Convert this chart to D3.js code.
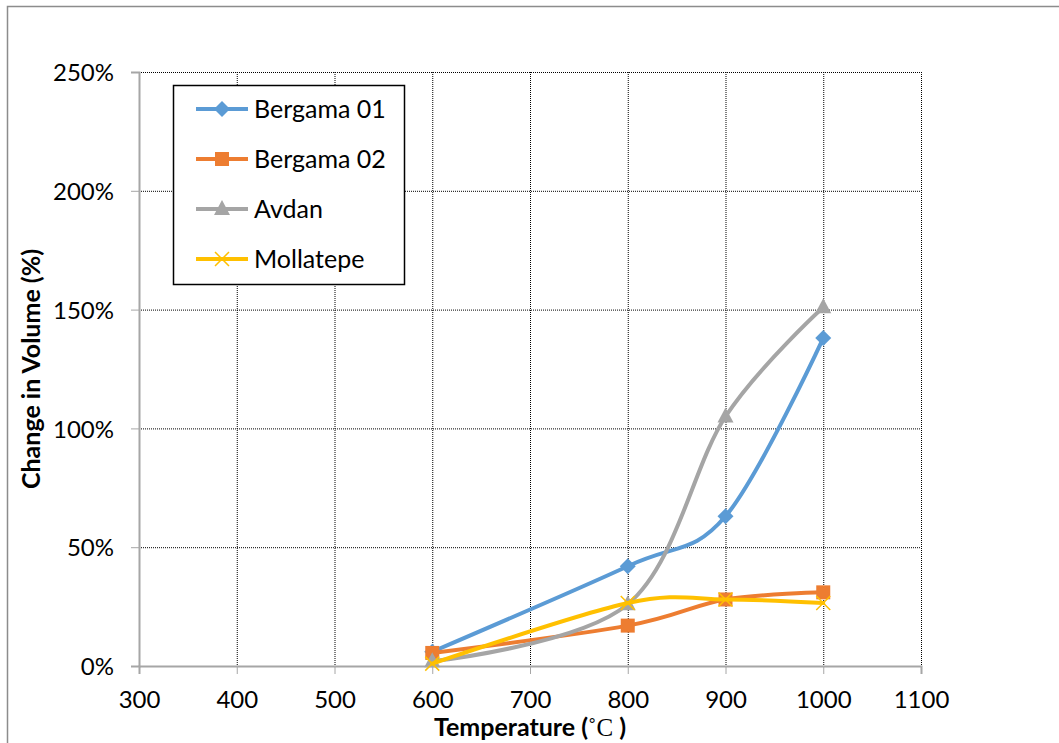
<!DOCTYPE html>
<html><head><meta charset="utf-8">
<script src="https://cdn.jsdelivr.net/npm/d3@7"></script>
<style>body{margin:0;background:#fff;}svg{display:block;}</style>
</head><body>
<svg id="c" width="1059" height="743"></svg>
<script>
const temps = [600, 800, 900, 1000];
const bergama01 = [6, 42, 63, 138];
const bergama02 = [5.5, 17, 28, 31];
const avdan = [2, 26, 105, 151];
const mollatepe = [1, 26.5, 28, 26.5];
const seriesNames = ["Bergama 01", "Bergama 02", "Avdan", "Mollatepe"];
const seriesColors = ["#5b9bd5", "#ed7d31", "#a5a5a5", "#ffc000"];
const seriesMarkers = ["diamond", "square", "triangle", "x"];
const xTicks = [300, 400, 500, 600, 700, 800, 900, 1000, 1100];
const yTicks = [0, 50, 100, 150, 200, 250];

const allSeries = [bergama01, bergama02, avdan, mollatepe];
const svg = d3.select("#c");
const font = "Lato, 'Open Sans', sans-serif";

svg.append("rect").attr("x",7.5).attr("y",6.5).attr("width",1100).attr("height",800)
  .attr("fill","none").attr("stroke","#8c8c8c").attr("stroke-width",1.5);

const L=139, R=921, T=72, B=666;
const x = d3.scaleLinear().domain([300,1100]).range([L,R]);
const y = d3.scaleLinear().domain([0,250]).range([B,T]);

// gridlines
const g = svg.append("g");
g.selectAll(".vg").data(xTicks.slice(1)).join("line")
  .attr("x1",d=>x(d)+0.5).attr("x2",d=>x(d)+0.5).attr("y1",T).attr("y2",B)
  .attr("stroke","#000").attr("stroke-width",1).attr("stroke-dasharray","1,1");
g.selectAll(".hg").data(yTicks.slice(1)).join("line")
  .attr("x1",L).attr("x2",R).attr("y1",d=>y(d)+0.5).attr("y2",d=>y(d)+0.5)
  .attr("stroke","#000").attr("stroke-width",1).attr("stroke-dasharray","1,1");

// axes
const xAxis = d3.axisBottom(x).tickValues(xTicks).tickSize(8).tickFormat(d3.format("d"));
const yAxis = d3.axisLeft(y).tickValues(yTicks).tickSize(8).tickFormat(d=>d+"%");
const xa = svg.append("g").attr("transform",`translate(0,${B})`).call(xAxis);
const ya = svg.append("g").attr("transform",`translate(${L},0)`).call(yAxis);
[xa,ya].forEach(a=>{
  a.select(".domain").attr("stroke","#a6a6a6").attr("stroke-width",2);
  a.selectAll(".tick line").attr("stroke","#a6a6a6").attr("stroke-width",1);
  a.selectAll("text").attr("font-family",font).attr("font-size",24).attr("fill","#000");
});
xa.selectAll("text").attr("y",0).attr("dy","0").attr("transform","translate(0,42)");
ya.selectAll("text").attr("x",-25).attr("dy","0.36em");

// lines
const line = d3.line().x((d,i)=>x(temps[i])).y(d=>y(d)).curve(d3.curveCatmullRom.alpha(0));
function marker(sel, type, color, cx, cy){
  if(type==="diamond"){
    sel.append("path").attr("d",`M${cx},${cy-8}L${cx+8},${cy}L${cx},${cy+8}L${cx-8},${cy}Z`).attr("fill",color);
  } else if(type==="square"){
    sel.append("rect").attr("x",cx-7).attr("y",cy-7).attr("width",14).attr("height",14).attr("fill",color);
  } else if(type==="triangle"){
    sel.append("path").attr("d",`M${cx},${cy-9}L${cx+8},${cy+6}L${cx-8},${cy+6}Z`).attr("fill",color);
  } else {
    sel.append("path").attr("d",`M${cx-7},${cy-7}L${cx+7},${cy+7}M${cx+7},${cy-7}L${cx-7},${cy+7}`)
      .attr("stroke",color).attr("stroke-width",1.5).attr("fill","none");
  }
}
allSeries.forEach((s,k)=>{
  const gg = svg.append("g");
  gg.append("path").attr("d",line(s)).attr("fill","none").attr("stroke",seriesColors[k])
    .attr("stroke-width",4).attr("stroke-linecap","round");
  s.forEach((v,i)=>marker(gg, seriesMarkers[k], seriesColors[k], x(temps[i]), y(v)));
});

// legend
const lg = svg.append("g");
lg.append("rect").attr("x",173.5).attr("y",85.5).attr("width",231).attr("height",199)
  .attr("fill","#fff").attr("stroke","#000").attr("stroke-width",1.5);
seriesNames.forEach((n,k)=>{
  const yy = 109 + k*50;
  lg.append("line").attr("x1",196).attr("x2",248).attr("y1",yy).attr("y2",yy)
    .attr("stroke",seriesColors[k]).attr("stroke-width",4);
  marker(lg, seriesMarkers[k], seriesColors[k], 222, yy);
  lg.append("text").attr("x",254).attr("y",yy).attr("dy","0.36em").text(n)
    .attr("font-family",font).attr("font-size",25).attr("fill","#000");
});

// axis titles
svg.append("text").attr("transform","translate(40,369) rotate(-90)").attr("text-anchor","middle")
  .attr("font-family",font).attr("font-size",25).attr("font-weight","bold").text("Change in Volume (%)");
const xt = svg.append("text").attr("x",530).attr("y",736).attr("text-anchor","middle")
  .attr("font-family",font).attr("font-size",25).attr("font-weight","bold");
xt.append("tspan").text("Temperature (");
xt.append("tspan").attr("font-family","'Liberation Serif', serif").attr("font-weight","normal").text("˚C");
xt.append("tspan").text(" )");
</script>
</body></html>
